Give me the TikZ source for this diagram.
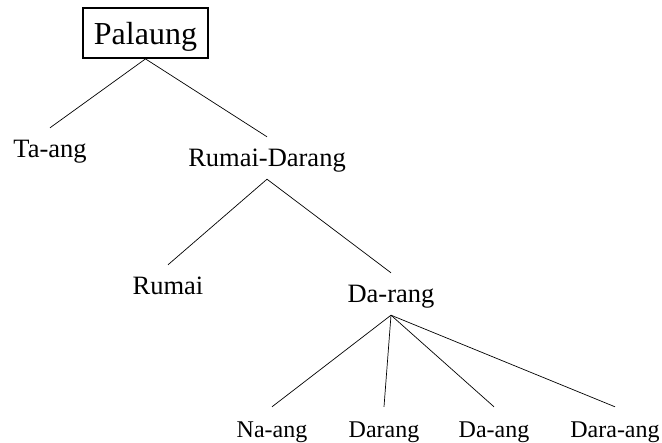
\documentclass[tikz,border=0pt]{standalone}
\usepackage{fontspec}
\setmainfont{Liberation Serif}
\usepackage{tikz}
\tikzset{
  lang/.style={anchor=base, inner sep=0pt, text height=30bp, text depth=12bp,
    font=\fontsize{26.5bp}{30bp}\selectfont},
  leaf/.style={lang, font=\fontsize{24bp}{28bp}\selectfont},
  root/.style={draw, line width=1.8bp, anchor=base, inner sep=0pt,
    minimum width=125bp, text height=37bp, text depth=13bp,
    font=\fontsize{32bp}{36bp}\selectfont},
  branch/.style={line width=0.7bp}
}
\begin{document}
\begin{tikzpicture}[x=1bp, y=-1bp]
    \useasboundingbox (0, 0) rectangle (662, 443);
    % root
    \node[root](palaung) at (145.5, 45){Palaung};
    % first split
    \node[lang](taang) at (50, 158){Ta-ang};
    \node[lang](rumaidarang) at (267, 167){Rumai-Darang};
    \draw [branch] (palaung.south) -- (taang.north);
    \draw [branch] (palaung.south) -- (rumaidarang.north);
    % Rumai-Darang
    \node[lang](rumai) at (168, 295){Rumai};
    \node[lang](darang) at (391, 303){Da-rang};
    \draw [branch] (rumaidarang.south) -- (rumai.north);
    \draw [branch] (rumaidarang.south) -- (darang.north);
    % Da-rang
    \node[leaf](naang) at (272, 437){Na-ang};
    \node[leaf](darangb) at (384, 437){Darang};
    \node[leaf](daang) at (494, 437){Da-ang};
    \node[leaf](daraang) at (615, 437){Dara-ang};
    \foreach \leafname in {naang, darangb, daang, daraang}
      \draw [branch] (darang.south) -- (\leafname.north);
\end{tikzpicture}
\end{document}
